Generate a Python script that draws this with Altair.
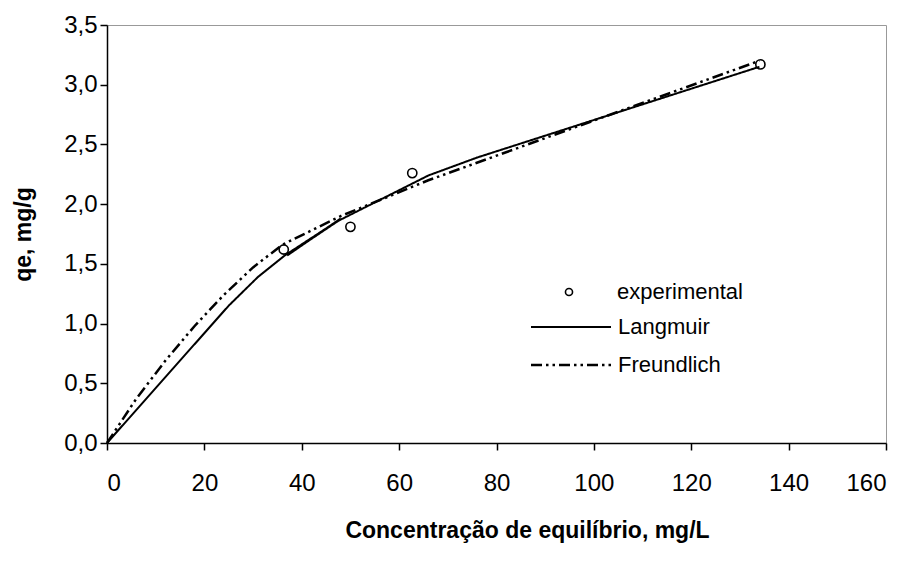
import altair as alt
import pandas as pd

# experimental data
exp_x = [36.3, 50.0, 62.7, 134.2]
exp_y = [1.62, 1.81, 2.26, 3.17]

# Langmuir model polyline (drawn in data order)
lang_x = [0, 25, 31, 36.5, 47, 37, 48, 38, 47.5, 66, 76, 134]
lang_y = [0, 1.15, 1.39, 1.57, 1.85, 1.57, 1.88, 1.60, 1.86, 2.24, 2.39, 3.15]

# Freundlich model polyline
freu_x = [0, 6, 12, 18, 24, 30, 36, 48, 66, 134]
freu_y = [0, 0.37, 0.69, 0.98, 1.24, 1.47, 1.66, 1.90, 2.20, 3.20]

x_ticks = [0, 20, 40, 60, 80, 100, 120, 140, 160]
y_ticks = [0, 0.5, 1.0, 1.5, 2.0, 2.5, 3.0, 3.5]

series_names = ["Langmuir", "Freundlich"]

pts = pd.DataFrame({"x": exp_x, "y": exp_y, "kind": ["experimental"] * len(exp_x)})
rows = []
for name, xs, ys in [("Langmuir", lang_x, lang_y), ("Freundlich", freu_x, freu_y)]:
    for i, (a, b) in enumerate(zip(xs, ys)):
        rows.append({"x": a, "y": b, "model": name, "idx": i})
lines = pd.DataFrame(rows)

FONT = "Liberation Sans"

xscale = alt.Scale(domain=[0, 160], nice=False)
yscale = alt.Scale(domain=[0, 3.5], nice=False)

xaxis = alt.Axis(
    values=x_ticks, title="Concentração de equilíbrio, mg/L",
    titleX=420, titleY=87, titleBaseline="middle",
    labelPadding=21,
)
yaxis = alt.Axis(
    values=y_ticks, title="qe, mg/g",
    labelExpr="replace(format(datum.value, '.1f'), '.', ',')",
    titleX=-84, titleY=209, titleBaseline="middle", titleAlign="center",
    labelPadding=3,
)

legend_lines = dict(
    orient="none", legendX=453, legendY=291, title=None,
    symbolType="M-8,0H8", symbolSize=100,
    symbolStrokeColor="black", symbolFillColor="white",
    labelOffset=36, rowPadding=16, padding=0,
    labelFont=FONT, labelFontSize=22, labelColor="black",
)

line_layer = alt.Chart(lines).mark_line(color="black").encode(
    x=alt.X("x:Q", scale=xscale, axis=xaxis),
    y=alt.Y("y:Q", scale=yscale, axis=yaxis),
    order="idx:Q",
    strokeDash=alt.StrokeDash(
        "model:N",
        scale=alt.Scale(domain=series_names, range=[[1, 0], [11, 4, 2.5, 4, 2.5, 4]]),
        legend=alt.Legend(**legend_lines),
    ),
    strokeWidth=alt.StrokeWidth(
        "model:N",
        scale=alt.Scale(domain=series_names, range=[2.0, 2.5]),
        legend=alt.Legend(**legend_lines),
    ),
)

point_layer = alt.Chart(pts).mark_point(
    filled=False, color="black", strokeWidth=1.6, size=85, opacity=1
).encode(
    x=alt.X("x:Q", scale=xscale),
    y=alt.Y("y:Q", scale=yscale),
    shape=alt.Shape(
        "kind:N",
        scale=alt.Scale(domain=["experimental"], range=["circle"]),
        legend=alt.Legend(
            orient="none", legendX=451, legendY=256, title=None,
            symbolSize=50, symbolStrokeWidth=1.6,
            symbolStrokeColor="black", symbolFillColor="white",
            labelOffset=37, padding=0,
            labelFont=FONT, labelFontSize=22, labelColor="black",
        ),
    ),
)

chart = alt.layer(line_layer, point_layer).properties(
    width=779, height=418,
    autosize=alt.AutoSizeParams(type="none"),
    padding={"left": 99, "top": 17, "right": 18, "bottom": 112},
).configure_view(
    stroke="#999999", strokeWidth=1
).configure_axis(
    grid=False,
    domainColor="black", domainWidth=1.5,
    tickColor="black", tickWidth=1.5, tickSize=7,
    labelFont=FONT, labelFontSize=24, labelColor="black",
    titleFont=FONT, titleFontSize=23, titleFontWeight="bold", titleColor="black",
)

chart.save("out.html", embed_options={"renderer": "svg", "actions": False})
